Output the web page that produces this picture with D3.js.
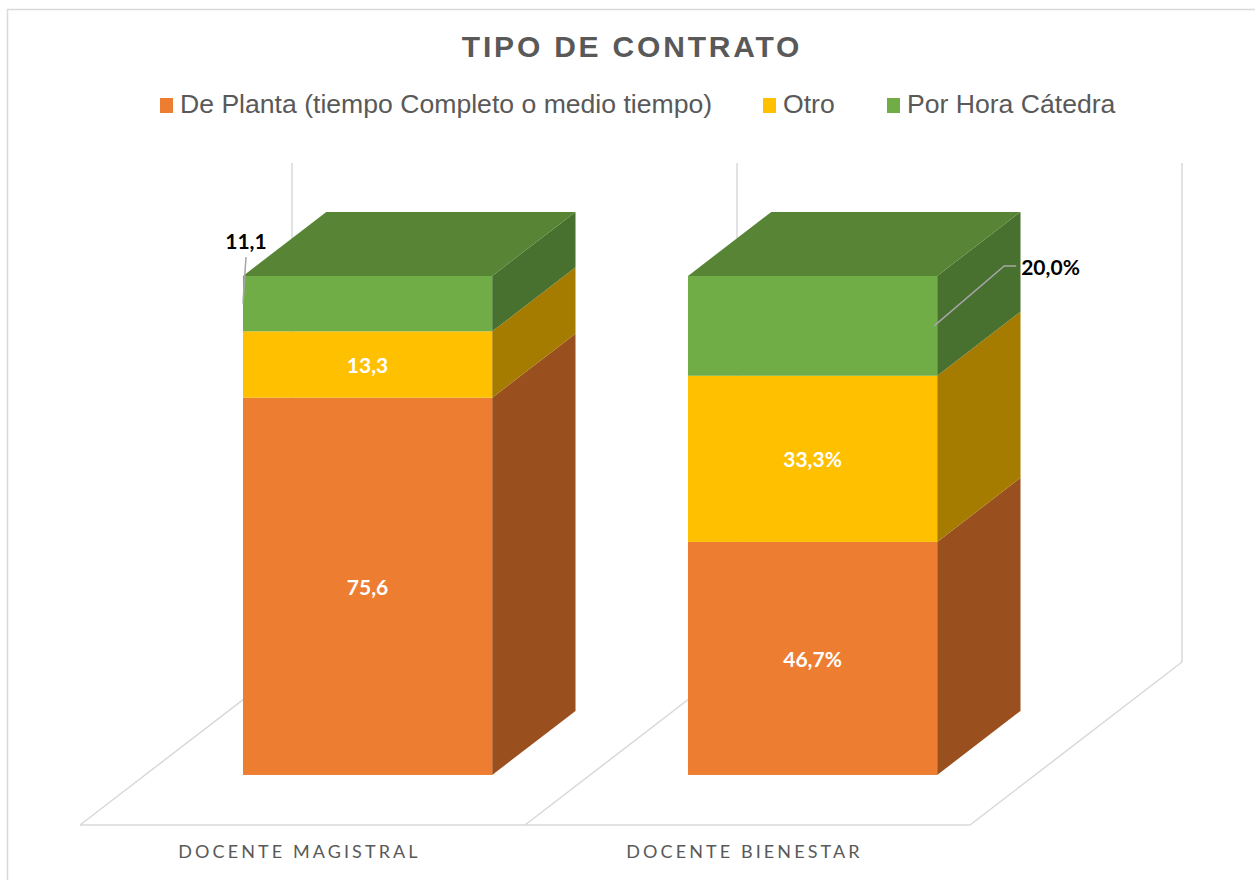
<!DOCTYPE html>
<html>
<head>
<meta charset="utf-8">
<script src="https://cdn.jsdelivr.net/npm/d3@7"></script>
<style>
  body { margin: 0; background: #fff; }
  svg { display: block; }
</style>
</head>
<body>
<div id="chart"></div>
<script>
// data
let categories = ["DOCENTE MAGISTRAL", "DOCENTE BIENESTAR"];
let seriesNames = ["De Planta (tiempo Completo o medio tiempo)", "Otro", "Por Hora Cátedra"];
let dePlanta = [75.6, 46.7];
let otro = [13.3, 33.3];
let porHora = [11.1, 20.0];
let labelSuffix = ["", "%"];

let frontColors = ["#ED7D31", "#FFC000", "#70AD47"];
let sideColors = ["#9A4F1F", "#A67C00", "#48702E"];
let topColors = ["#A85722", "#B58800", "#588535"];

let width = 1255, height = 880;

let svg = d3.select("#chart").append("svg")
    .attr("width", width)
    .attr("height", height);

// chart border (cut off at right / bottom)
svg.append("rect")
    .attr("x", 7.5).attr("y", 9.5)
    .attr("width", 1300).attr("height", 900)
    .attr("fill", "none")
    .attr("stroke", "#d9d9d9")
    .attr("stroke-width", 1.5);

// title
svg.append("text")
    .attr("x", 632).attr("y", 57)
    .attr("text-anchor", "middle")
    .style("font-family", "'Liberation Sans', Arial, sans-serif")
    .style("font-weight", "bold")
    .style("font-size", "30px")
    .style("letter-spacing", "2.8px")
    .attr("fill", "#595959")
    .text("TIPO DE CONTRATO");

// legend
let legendX = [160, 763, 887];
let legend = svg.append("g");
seriesNames.forEach((name, i) => {
    legend.append("rect")
        .attr("x", legendX[i]).attr("y", 98)
        .attr("width", 13).attr("height", 15)
        .attr("fill", frontColors[i]);
    legend.append("text")
        .attr("x", legendX[i] + 20).attr("y", 113)
        .style("font-family", "'Liberation Sans', Arial, sans-serif")
        .style("font-size", "26.6px")
        .attr("fill", "#595959")
        .text(name);
});

// 3d geometry
let floorY = 825;
let depth = {dx: 212, dy: -163};        // full floor depth
let barFront = 0.307, barBack = 0.70;    // fraction of floor depth

let xScale = d3.scaleBand()
    .domain(categories)
    .range([80, 970]);
let barW = xScale.bandwidth() * 0.56;
let hScale = d3.scaleLinear()
    .domain([0, 100])
    .range([0, 499]);

// floor and back wall lines
let bounds = categories.map(c => xScale(c)).concat([xScale.range()[1]]);
let grid = svg.append("g")
    .attr("fill", "none")
    .attr("stroke", "#d9d9d9")
    .attr("stroke-width", 1.5);
grid.append("line")
    .attr("x1", bounds[0]).attr("y1", floorY)
    .attr("x2", bounds[bounds.length - 1]).attr("y2", floorY);
bounds.forEach(bx => {
    let pts = [
        [bx, floorY],
        [bx + depth.dx, floorY + depth.dy],
        [bx + depth.dx, floorY + depth.dy - hScale(100)]
    ];
    grid.append("path").attr("d", d3.line()(pts));
});

// category labels
svg.append("g").selectAll("text")
    .data(categories)
    .join("text")
    .attr("x", d => xScale(d) + xScale.bandwidth() / 2 - 3)
    .attr("y", 858)
    .attr("text-anchor", "middle")
    .style("font-family", "Lato, 'Open Sans', sans-serif")
    .style("font-size", "18px")
    .style("letter-spacing", "3.1px")
    .attr("fill", "#595959")
    .text(d => d);

// stack
let rows = categories.map((c, i) => ({cat: c, s0: dePlanta[i], s1: otro[i], s2: porHora[i]}));
let stacked = d3.stack().keys(["s0", "s1", "s2"])(rows);

let bars = svg.append("g");
categories.forEach((c, ci) => {
    let fx = xScale(c) + (xScale.bandwidth() - barW) / 2 + barFront * depth.dx;
    let fy = floorY + barFront * depth.dy;
    let ddx = (barBack - barFront) * depth.dx, ddy = (barBack - barFront) * depth.dy;
    stacked.forEach((layer, si) => {
        let y0 = fy - hScale(layer[ci][0]);
        let y1 = fy - hScale(layer[ci][1]);
        let g = bars.append("g");
        // side face
        g.append("path")
            .attr("d", d3.line()([[fx + barW, y0], [fx + barW + ddx, y0 + ddy], [fx + barW + ddx, y1 + ddy], [fx + barW, y1]]) + "Z")
            .attr("fill", sideColors[si]);
        // front face
        g.append("rect")
            .attr("x", fx).attr("y", y1)
            .attr("width", barW).attr("height", y0 - y1)
            .attr("fill", frontColors[si]);
        // top face for the last layer
        if (si === stacked.length - 1) {
            g.append("path")
                .attr("d", d3.line()([[fx, y1], [fx + ddx, y1 + ddy], [fx + barW + ddx, y1 + ddy], [fx + barW, y1]]) + "Z")
                .attr("fill", topColors[si]);
        }
        layer[ci].fx = fx; layer[ci].y0 = y0; layer[ci].y1 = y1;
    });
});

// data labels
let fmt = v => d3.format(".1f")(v).replace(".", ",");
let labels = svg.append("g")
    .style("font-family", "Lato, 'Open Sans', sans-serif")
    .style("font-weight", "bold")
    .style("font-size", "21px");

categories.forEach((c, ci) => {
    stacked.forEach((layer, si) => {
        let d = layer[ci];
        let val = d.data["s" + si];
        let txt = fmt(val) + labelSuffix[ci];
        let midY = (d.y0 + d.y1) / 2;
        if (si < 2) {
            labels.append("text")
                .attr("x", d.fx + barW / 2).attr("y", midY + 1)
                .attr("dy", "0.36em")
                .attr("text-anchor", "middle")
                .attr("fill", "#fff")
                .text(txt);
        } else if (ci === 0) {
            // label above left edge with leader line
            labels.append("path")
                .attr("d", d3.line()([[d.fx + 3, d.y1 - 19], [d.fx, midY]]))
                .attr("stroke", "#a6a6a6").attr("stroke-width", 1.5).attr("fill", "none");
            labels.append("text")
                .attr("x", d.fx + 3).attr("y", d.y1 - 35)
                .attr("dy", "0.36em")
                .attr("text-anchor", "middle")
                .attr("fill", "#000")
                .text(txt);
        } else {
            // label to the right with leader line
            let ax = d.fx + barW - 3, ay = midY;
            labels.append("path")
                .attr("d", d3.line()([[ax, ay], [ax + 70, d.y1 - 10], [ax + 82, d.y1 - 10]]))
                .attr("stroke", "#a6a6a6").attr("stroke-width", 1.5).attr("fill", "none");
            labels.append("text")
                .attr("x", ax + 87).attr("y", d.y1 - 9)
                .attr("dy", "0.36em")
                .attr("fill", "#000")
                .text(txt);
        }
    });
});
</script>
</body>
</html>
